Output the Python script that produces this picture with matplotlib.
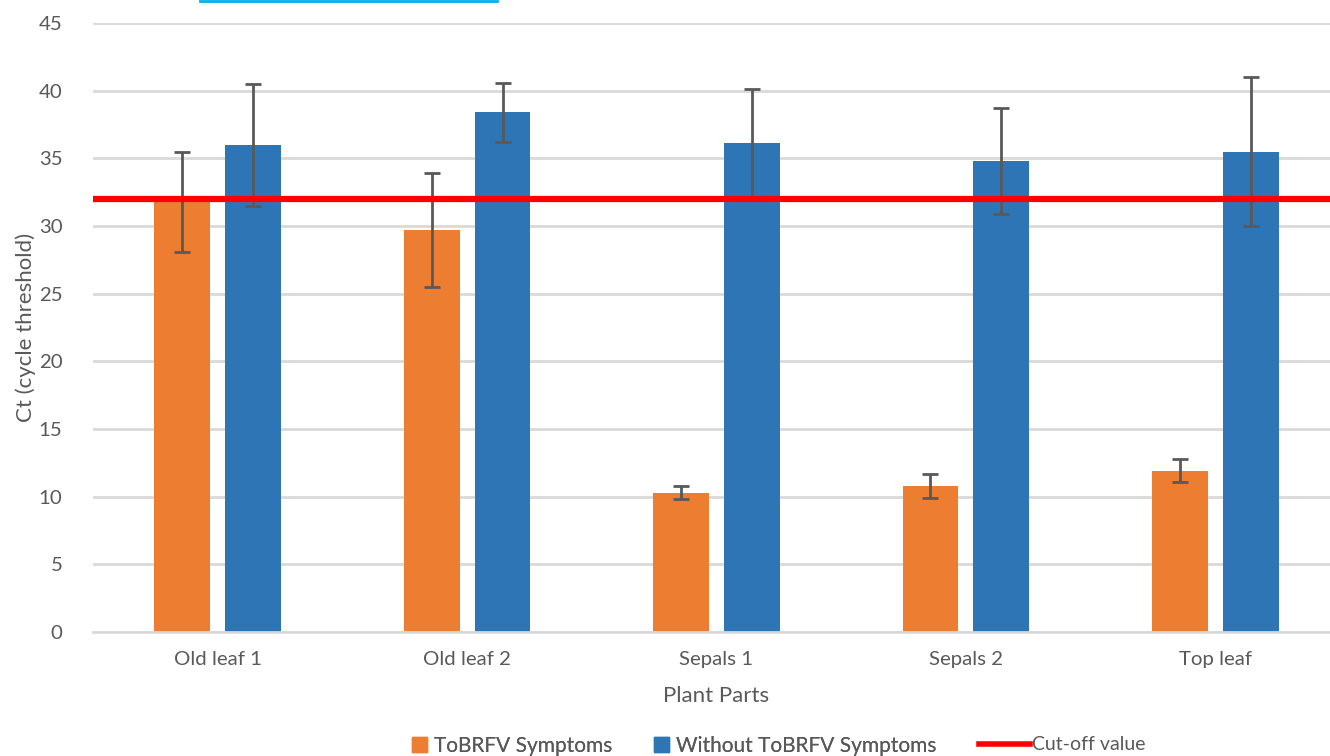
import matplotlib
matplotlib.use("Agg")
import matplotlib.pyplot as plt
import numpy as np
from matplotlib.lines import Line2D
from matplotlib.patches import Patch

categories = ["Old leaf 1", "Old leaf 2", "Sepals 1", "Sepals 2", "Top leaf"]
symptoms = [31.8, 29.7, 10.3, 10.8, 11.9]
symptoms_err = [3.7, 4.2, 0.5, 0.9, 0.85]
without = [36.0, 38.4, 36.1, 34.8, 35.5]
without_err = [4.5, 2.2, 4.0, 3.95, 5.5]
cutoff = 32.0
yticks = [0, 5, 10, 15, 20, 25, 30, 35, 40, 45]

plt.rcParams['font.family'] = ['Lato', 'DejaVu Sans']
W, H = 1330, 756
fig = plt.figure(figsize=(W / 100, H / 100), dpi=100)
ax = fig.add_axes([93 / W, 124 / H, (1340 - 93) / W, (733 - 124) / H])

orange = "#ED7D31"
blue = "#2E75B6"
grey = "#595959"
x = np.arange(len(categories))
bw = 0.224
off = 0.142
ax.bar(x - off, symptoms, bw, color=orange, zorder=2)
ax.bar(x + off, without, bw, color=blue, zorder=2)
ax.errorbar(x - off, symptoms, yerr=symptoms_err, fmt="none", ecolor=grey,
            elinewidth=2, capsize=6, capthick=2, zorder=3)
ax.errorbar(x + off, without, yerr=without_err, fmt="none", ecolor=grey,
            elinewidth=2, capsize=6, capthick=2, zorder=3)
ax.axhline(cutoff, color="#FF0000", lw=4.5, zorder=4)

ax.set_xlim(-0.5, len(categories) - 0.5)
ax.set_ylim(0, 45)
ax.set_yticks(yticks)
ax.set_xticks(x)
ax.set_xticklabels(categories)
ax.yaxis.grid(True, color="#D9D9D9", lw=2, zorder=0)
ax.set_axisbelow(True)
for s in ["top", "right", "left"]:
    ax.spines[s].set_visible(False)
ax.spines["bottom"].set_color("#D9D9D9")
ax.spines["bottom"].set_linewidth(2)
ax.tick_params(axis="both", length=0, labelsize=14.7, labelcolor=grey)
ax.tick_params(axis="y", pad=22)
ax.tick_params(axis="x", pad=14)
ax.set_xlabel("Plant Parts", fontsize=16, color=grey, labelpad=13)
ax.set_ylabel("Ct (cycle threshold)", fontsize=16, color=grey, labelpad=2)

# hyperlink fragment at the top
fig.add_artist(Line2D([200 / W, 497 / W], [1 - 1 / H, 1 - 1 / H], transform=fig.transFigure,
                      color="#00B0F0", lw=2))

h1 = [Patch(color=orange), Patch(color=blue)]
leg1 = fig.legend(h1, ["ToBRFV Symptoms", "Without ToBRFV Symptoms"], ncol=2,
                  loc="center left", bbox_to_anchor=(393 / W, 1 - 746 / H), frameon=False,
                  fontsize=15, handlelength=0.75, handleheight=0.75, handletextpad=0.3,
                  columnspacing=2.0, labelcolor=grey)
fig.add_artist(leg1)
h2 = [Line2D([0], [0], color="#FF0000", lw=4)]
fig.legend(h2, ["Cut-off value"], loc="center left", bbox_to_anchor=(962 / W, 1 - 745 / H),
           frameon=False, fontsize=14, handlelength=2.6, handletextpad=0.1, labelcolor=grey)

fig.savefig("out.png", dpi=100)
